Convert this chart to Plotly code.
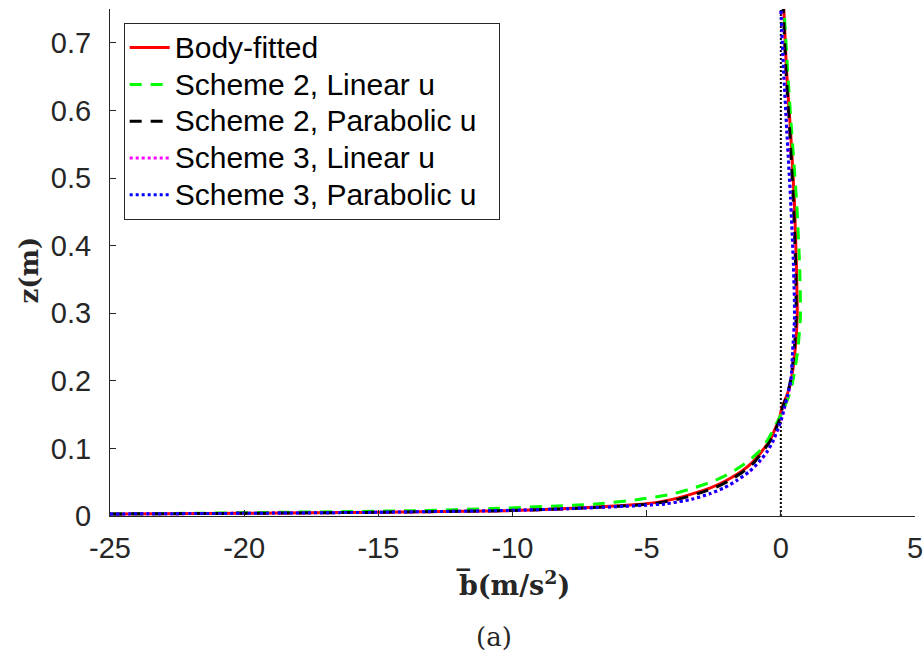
import plotly.graph_objects as go

# Height levels (m)
z_levels = [0.003, 0.004, 0.0055, 0.008, 0.011, 0.018, 0.025, 0.033, 0.042, 0.0525,
            0.065, 0.08, 0.095, 0.112, 0.13, 0.146, 0.16, 0.18, 0.20, 0.245,
            0.295, 0.37, 0.47, 0.57, 0.66, 0.75]

# Mean buoyancy b (m/s^2) read for each series at the heights above
b_body_fitted = [-25, -20, -15, -10, -8.0, -5.0, -4.0, -3.27, -2.6, -2.03,
                 -1.5, -1.04, -0.72, -0.41, -0.2, -0.04, 0.04, 0.24, 0.38, 0.53,
                 0.61, 0.58, 0.50, 0.36, 0.21, 0.11]
b_s2_linear = [-25, -22, -18.5, -13.5, -10.8, -6.8, -5.2, -4.0, -3.2, -2.45,
               -1.82, -1.25, -0.82, -0.5, -0.25, -0.04, 0.13, 0.32, 0.45, 0.63,
               0.73, 0.70, 0.58, 0.40, 0.25, 0.12]
b_s2_parabolic = [-25, -20, -15, -10.2, -7.8, -4.8, -3.8, -3.1, -2.45, -1.92,
                  -1.42, -0.98, -0.68, -0.38, -0.17, -0.02, 0.06, 0.24, 0.36, 0.50,
                  0.57, 0.55, 0.46, 0.33, 0.19, 0.09]
b_s3_linear = [-25, -20, -15, -10.4, -7.7, -4.3, -3.3, -2.62, -2.08, -1.63,
               -1.18, -0.8, -0.5, -0.27, -0.09, 0.05, 0.14, 0.27, 0.38, 0.45,
               0.52, 0.48, 0.37, 0.23, 0.11, 0.01]
b_s3_parabolic = [-25, -20, -15, -10.5, -7.8, -4.3, -3.3, -2.65, -2.1, -1.65,
                  -1.2, -0.82, -0.52, -0.28, -0.1, 0.04, 0.13, 0.26, 0.37, 0.44,
                  0.51, 0.47, 0.36, 0.22, 0.10, 0.0]

series_names = ["Body-fitted", "Scheme 2, Linear u", "Scheme 2, Parabolic u",
                "Scheme 3, Linear u", "Scheme 3, Parabolic u"]

x_tickvals = [-25, -20, -15, -10, -5, 0, 5]
x_ticktext = ["-25", "-20", "-15", "-10", "-5", "0", "5"]
y_tickvals = [0, 0.1, 0.2, 0.3, 0.4, 0.5, 0.6, 0.7]
y_ticktext = ["0", "0.1", "0.2", "0.3", "0.4", "0.5", "0.6", "0.7"]

zero_line_x = [0, 0]
zero_line_z = [0, 0.75]

fig = go.Figure()

fig.add_trace(go.Scatter(x=zero_line_x, y=zero_line_z, mode="lines",
                         line=dict(color="black", width=2, dash="2px,2px"),
                         showlegend=False, hoverinfo="skip"))

styles = [
    dict(color="#ff0000", width=3, dash="solid"),
    dict(color="#00ff00", width=3, dash="12px,9px"),
    dict(color="#000000", width=3, dash="12px,9px"),
    dict(color="#ff00ff", width=3, dash="3px,3px"),
    dict(color="#0000ff", width=3, dash="3px,3px"),
]
data_series = [b_body_fitted, b_s2_linear, b_s2_parabolic, b_s3_linear, b_s3_parabolic]

for name, bvals, st in zip(series_names, data_series, styles):
    fig.add_trace(go.Scatter(x=bvals, y=z_levels, mode="lines",
                             name='<span style="font-size:30px">' + name + '\u00a0\u00a0</span>',
                             line=dict(color=st["color"], width=st["width"],
                                       dash=st["dash"], shape="spline", smoothing=0.6)))

axis_color = "#262626"
tick_font = dict(family="Liberation Sans, Arial, sans-serif", size=29, color=axis_color)
fig.update_layout(
    width=924, height=655,
    margin=dict(l=110, r=9, t=9, b=139),
    paper_bgcolor="white", plot_bgcolor="white",
    showlegend=True,
    legend=dict(x=0.017, y=0.972, xanchor="left", yanchor="top",
                bgcolor="white", bordercolor=axis_color, borderwidth=1,
                font=dict(family="Liberation Sans, Arial, sans-serif", size=26, color="black"),
                tracegroupgap=0, itemwidth=40),
    xaxis=dict(range=[-25, 5], tickvals=x_tickvals, ticktext=x_ticktext,
               showgrid=False, zeroline=False, showline=True, linecolor=axis_color,
               linewidth=1, ticks="inside", ticklen=6, tickcolor=axis_color,
               tickfont=tick_font, ticklabelstandoff=6, mirror=False, automargin=False),
    yaxis=dict(range=[0, 0.75], tickvals=y_tickvals, ticktext=y_ticktext,
               showgrid=False, zeroline=False, showline=True, linecolor=axis_color,
               linewidth=1, ticks="inside", ticklen=6, tickcolor=axis_color,
               tickfont=tick_font, ticklabelstandoff=12, mirror=False, automargin=False),
    annotations=[
        dict(text="<b>b\u0305(m/s<sup>2</sup>)</b>", xref="paper", yref="paper",
             x=0.5, y=-0.134, xanchor="center", yanchor="middle", showarrow=False,
             font=dict(family="DejaVu Serif, serif", size=27, color=axis_color)),
        dict(text="(a)", xref="paper", yref="paper",
             x=0.477, y=-0.238, xanchor="center", yanchor="middle", showarrow=False,
             font=dict(family="DejaVu Serif, serif", size=26, color=axis_color)),
        dict(text="<b>z(m)</b>", xref="paper", yref="paper",
             x=-0.1, y=0.485, xanchor="center", yanchor="middle", showarrow=False,
             textangle=-90,
             font=dict(family="DejaVu Serif, serif", size=26, color=axis_color)),
    ],
)

fig.write_html("out.html", config={"displayModeBar": False},
               post_script="document.body.style.margin='0';")
